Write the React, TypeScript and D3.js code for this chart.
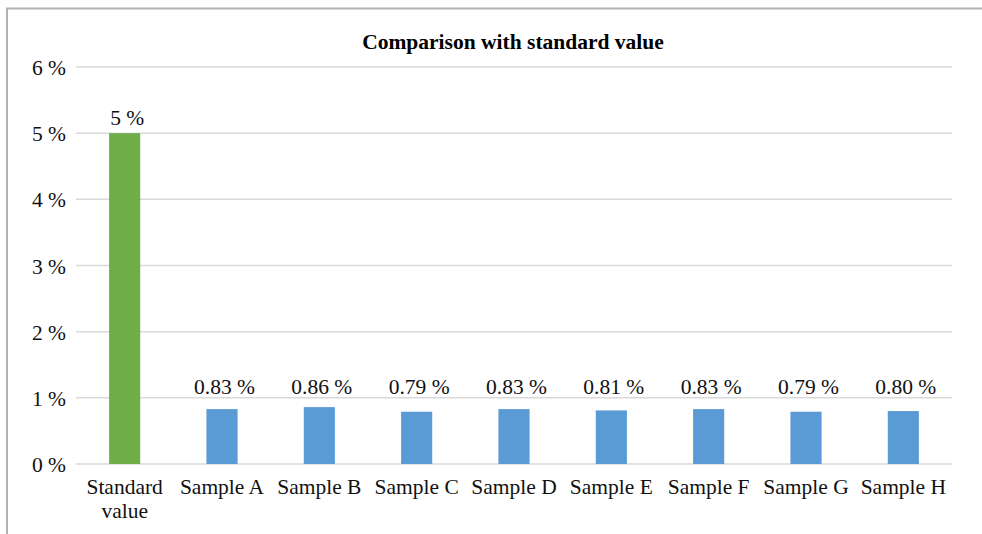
import React from 'react';
import * as d3 from 'd3';

const categories = ['Standard value', 'Sample A', 'Sample B', 'Sample C', 'Sample D', 'Sample E', 'Sample F', 'Sample G', 'Sample H'];
const values = [5, 0.83, 0.86, 0.79, 0.83, 0.81, 0.83, 0.79, 0.8];
const valueLabels = ['5 %', '0.83 %', '0.86 %', '0.79 %', '0.83 %', '0.81 %', '0.83 %', '0.79 %', '0.80 %'];
const yTicks = [0, 1, 2, 3, 4, 5, 6];
const barColors = ['#70ad47', '#5b9bd5', '#5b9bd5', '#5b9bd5', '#5b9bd5', '#5b9bd5', '#5b9bd5', '#5b9bd5', '#5b9bd5'];

const W = 982, H = 534;
const left = 76, right = 952, top = 67, bottom = 464;
const font = '"Liberation Serif", "Times New Roman", serif';

export default function App() {
  const x = d3.scaleBand().domain(categories).range([left, right]).paddingInner(0.68).paddingOuter(0.34);
  const y = d3.scaleLinear().domain([0, 6]).range([bottom, top]);

  return (
    <svg width={W} height={H} style={{ position: 'absolute', left: 0, top: 0 }} fontFamily={font}>
      <rect x={0} y={0} width={W} height={H} fill="#fff" />
      {/* chart frame, cropped on right and bottom */}
      <rect x={7} y={8.5} width={W + 20} height={H + 20} fill="none" stroke="#b3b3b3" strokeWidth={2} />

      <text x={(left + right) / 2 - 1} y={49} textAnchor="middle" fontSize={21.5} fontWeight="bold" fill="#000">
        Comparison with standard value
      </text>

      {yTicks.map(t => (
        <g key={t}>
          <line x1={left} x2={right} y1={y(t)} y2={y(t)} stroke="#d9d9d9" strokeWidth={1.5} />
          <text x={66} y={y(t) + 8} textAnchor="end" fontSize={21.5} fill="#111">{t} %</text>
        </g>
      ))}

      {categories.map((c, i) => (
        <g key={c}>
          <rect x={x(c)} y={y(values[i])} width={x.bandwidth()} height={y(0) - y(values[i])} fill={barColors[i]} />
          <text x={x(c)! + x.bandwidth() / 2 + 2.5} y={Math.min(y(values[i]) - 8, y(1) - 4)} textAnchor="middle" fontSize={21.5} fill="#111">
            {valueLabels[i]}
          </text>
          {c === 'Standard value' ? (
            <text x={x(c)! + x.bandwidth() / 2} y={y(0) + 30} textAnchor="middle" fontSize={21.5} fill="#111">
              <tspan x={x(c)! + x.bandwidth() / 2}>Standard</tspan>
              <tspan x={x(c)! + x.bandwidth() / 2} dy={24}>value</tspan>
            </text>
          ) : (
            <text x={x(c)! + x.bandwidth() / 2} y={y(0) + 30} textAnchor="middle" fontSize={21.5} fill="#111">{c}</text>
          )}
        </g>
      ))}
    </svg>
  );
}
